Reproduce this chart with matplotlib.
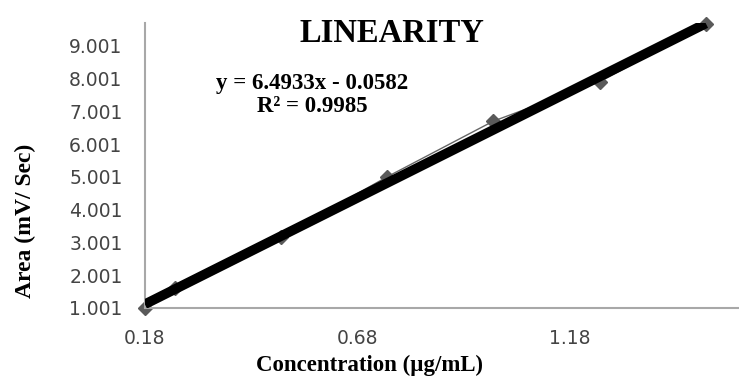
import numpy as np
import matplotlib.pyplot as plt

# calibration data
conc = [0.18, 0.25, 0.50, 0.75, 1.00, 1.25, 1.50]
area = [1.00, 1.60, 3.17, 5.00, 6.70, 7.90, 9.65]
slope, intercept = 6.4933, -0.0582
y_ticks = [1.001, 2.001, 3.001, 4.001, 5.001, 6.001, 7.001, 8.001, 9.001]
x_ticks = [0.18, 0.68, 1.18]

fig = plt.figure(figsize=(7.39, 3.81), dpi=100)
ax = fig.add_axes([0.196, 0.192, 0.804, 0.748])

ax.plot(conc, area, color="#666666", lw=1.0, marker="D", ms=7,
        mfc="#5a5a5a", mec="#5a5a5a", zorder=2, clip_on=False)

xs = np.array([conc[0], conc[-1]])
ax.plot(xs, slope * xs + intercept, color="black", lw=7,
        solid_capstyle="butt", zorder=3)

ax.set_xlim(0.18, 1.578)
ax.set_ylim(1.001, 9.70)
ax.set_xticks(x_ticks)
ax.set_xticklabels([f"{v:.2f}" for v in x_ticks])
ax.set_yticks(y_ticks)
ax.set_yticklabels([f"{v:.3f}" for v in y_ticks])
ax.tick_params(length=0, labelsize=13.5, labelcolor="#444444")
ax.tick_params(axis="y", pad=16)
ax.tick_params(axis="x", pad=15)
for s in ["top", "right"]:
    ax.spines[s].set_visible(False)
for s in ["left", "bottom"]:
    ax.spines[s].set_color("#a8a8a8")
    ax.spines[s].set_linewidth(1.5)

serif = "Liberation Serif"
fig.text(0.53, 0.913, "LINEARITY", ha="center", va="center",
         family=serif, weight="bold", fontsize=23.5)
fig.text(0.423, 0.782, "y = 6.4933x - 0.0582", ha="center", va="center",
         family=serif, weight="bold", fontsize=16.5)
fig.text(0.423, 0.72, "R² = 0.9985", ha="center", va="center",
         family=serif, weight="bold", fontsize=16.5)
fig.text(0.034, 0.42, "Area (mV/ Sec)", ha="center", va="center",
         rotation=90, family=serif, weight="bold", fontsize=17)
fig.text(0.50, 0.042, "Concentration (µg/mL)", ha="center", va="center",
         family=serif, weight="bold", fontsize=16.5)

fig.savefig("out.png", dpi=100)
